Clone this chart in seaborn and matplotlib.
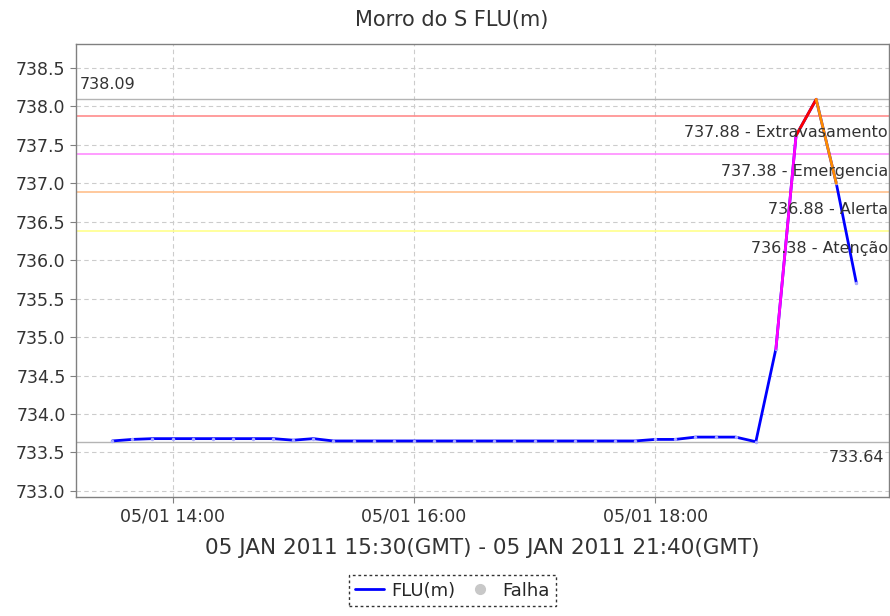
import pandas as pd
import matplotlib
matplotlib.use('Agg')
import matplotlib.pyplot as plt
import matplotlib.dates as mdates
from matplotlib.lines import Line2D
import seaborn as sns

# readings every 10 minutes, local time (GMT-2)
times = pd.date_range('2011-01-05 13:30', '2011-01-05 19:40', freq='10min')
levels = [733.65, 733.67,
          733.68, 733.68, 733.68, 733.68, 733.68, 733.68, 733.68,
          733.66, 733.68,
          733.65, 733.65, 733.65, 733.65, 733.65, 733.65, 733.65, 733.65,
          733.65, 733.65, 733.65, 733.65, 733.65, 733.65, 733.65, 733.65,
          733.67, 733.67, 733.70, 733.70, 733.70, 733.64,
          734.85, 737.62, 738.09, 737.00, 735.70]

# alarm thresholds
thr_values = [737.88, 737.38, 736.88, 736.38]
thr_names = ['Extravasamento', 'Emergencia', 'Alerta', 'Atenção']
thr_line_colors = ['#ff8c8c', '#ff8cff', '#ffc08c', '#ffff8c']
thr_seg_colors = ['#ff0000', '#ff00ff', '#ff8c00', '#ffff00']

df = pd.DataFrame({'time': times, 'level': levels})

sns.set_style('white')
fig = plt.figure(figsize=(8.9, 6.16), dpi=100)
ax = fig.add_axes([0.0854, 0.193, 0.913, 0.7356])

# grid
ax.grid(True, color='#cccccc', linestyle=(0, (4, 3)), linewidth=0.8)

# min / max reference lines
vmax, vmin = max(levels), min(levels)
ax.axhline(vmax, color='#b4b4b4', linewidth=1)
ax.axhline(vmin, color='#b4b4b4', linewidth=1)

# threshold lines
for v, c in zip(thr_values, thr_line_colors):
    ax.axhline(v, color=c, linewidth=1.2)

# base series
sns.lineplot(data=df, x='time', y='level', ax=ax, color='#0000ff',
             linewidth=2, marker='o', markersize=2.5, markeredgewidth=0,
             markerfacecolor='#aaaaff')

# colour the segments by the level they reach
for i in range(1, len(df)):
    end = df['level'][i]
    col = None
    for v, c in zip(thr_values, thr_seg_colors):
        if end >= v:
            col = c
            break
    if col is not None:
        seg = df.iloc[i - 1:i + 1]
        ax.plot(seg['time'], seg['level'], color=col, linewidth=2)

# labels
lbl_kw = dict(fontsize=11.5, color='#333333')
ax.annotate(f'{vmax:.2f}', xy=(0.005, vmax), xycoords=('axes fraction', 'data'),
            xytext=(0, 5), textcoords='offset points', ha='left', va='bottom', **lbl_kw)
ax.annotate(f'{vmin:.2f}', xy=(0.995, vmin), xycoords=('axes fraction', 'data'),
            xytext=(0, -6), textcoords='offset points', ha='right', va='top', **lbl_kw)
for v, n in zip(thr_values, thr_names):
    ax.annotate(f'{v:.2f} - {n}', xy=(0.999, v), xycoords=('axes fraction', 'data'),
                xytext=(0, -7), textcoords='offset points', ha='right', va='top', **lbl_kw)

# axes
ax.set_ylim(732.92, 738.81)
ax.set_xlim(pd.Timestamp('2011-01-05 13:12'), pd.Timestamp('2011-01-05 19:56'))
ax.set_yticks([733.0, 733.5, 734.0, 734.5, 735.0, 735.5, 736.0, 736.5,
               737.0, 737.5, 738.0, 738.5])
ax.yaxis.set_major_formatter(matplotlib.ticker.FormatStrFormatter('%.1f'))
ax.xaxis.set_major_locator(mdates.HourLocator(interval=2))
ax.xaxis.set_major_formatter(mdates.DateFormatter('%d/%m %H:%M'))
ax.tick_params(axis='both', labelsize=12.5, colors='#333333', length=4,
               direction='out', left=True, bottom=True, color='#808080')
for s in ax.spines.values():
    s.set_color('#808080')
    s.set_linewidth(1)

fig.suptitle('Morro do S FLU(m)', x=0.508, y=0.968, va='center',
             fontsize=15, color='#333333')
ax.set_xlabel('05 JAN 2011 15:30(GMT) - 05 JAN 2011 21:40(GMT)',
              fontsize=15.5, color='#333333', labelpad=9)
ax.set_ylabel('')

handles = [Line2D([], [], color='#0000ff', linewidth=2),
           Line2D([], [], color='#c8c8c8', marker='o', linestyle='none', markersize=7)]
leg = fig.legend(handles, ['FLU(m)', 'Falha'], loc='center',
                 bbox_to_anchor=(0.508, 0.041), ncol=2, fontsize=13, frameon=True,
                 fancybox=False, handlelength=1.6, handletextpad=0.4,
                 columnspacing=0.6, borderpad=0.35)
leg.get_frame().set_edgecolor('#000000')
leg.get_frame().set_linestyle((0, (2, 2)))
leg.get_frame().set_linewidth(1)

fig.savefig('out.png', dpi=100)
